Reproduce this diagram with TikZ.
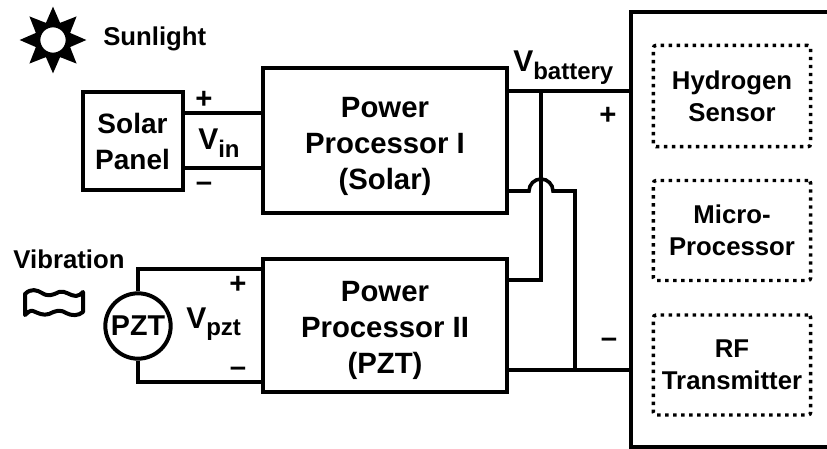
\documentclass[tikz,border=0pt]{standalone}
\usepackage{fontspec}
\setmainfont{Liberation Sans}
\usetikzlibrary{shapes.geometric}

\tikzset{
  block/.style={draw, line width=3pt, inner sep=0pt, align=center, font=\fontsize{21}{27}\selectfont\bfseries},
  proc/.style={block, minimum width=183pt, font=\fontsize{22}{27}\selectfont\bfseries},
  load/.style={draw, line width=2.6pt, dash pattern=on 2.6pt off 3.4pt, rounded corners=2pt, inner sep=0pt, align=center, minimum width=118pt, font=\fontsize{19.3}{24}\selectfont\bfseries},
  wire/.style={line width=2.7pt},
  sign/.style={inner sep=0pt, font=\fontsize{22}{22}\selectfont\bfseries},
  label/.style={inner sep=0pt, font=\fontsize{19.3}{24}\selectfont\bfseries},
  volt/.style={inner sep=0pt, anchor=base west, font=\fontsize{22.5}{24}\selectfont\bfseries}
}
\newcommand{\volts}[1]{V\raisebox{-5.5pt}{\fontsize{18}{18}\selectfont #1}}

\begin{document}
\begin{tikzpicture}[x=0.75pt,y=-0.75pt]

\useasboundingbox (0,0) rectangle (827,449);

% sources
\node[star, star points=8, star point ratio=1.8, minimum size=50pt, inner sep=0pt, fill=black] (sun) at (53,40) {};
\node[circle, draw, line width=3pt, fill=white, minimum size=22pt, inner sep=0pt] (disc) at (53,40) {};
\node[label, anchor=west] (sunlight) at (103,39) {Sunlight};
\node[block, minimum width=75pt, minimum height=74pt] (panel) at (132.5,141) {Solar\\Panel};
\node[label] (vibration) at (69,259) {Vibration};
\node[block, circle, minimum size=49pt, font=\fontsize{21.5}{24}\selectfont\bfseries] (pzt) at (138,326) {PZT};

\draw[line width=3pt, line join=round] (25,294) .. controls (31,288) and (37,290) .. (42,293)
  .. controls (48,297) and (53,295) .. (59,292) .. controls (65,290) and (70,296) .. (76,296)
  .. controls (79,296) and (81,294) .. (83,292) -- (83,312)
  .. controls (78,316) and (72,316) .. (66,313) .. controls (60,309) and (55,311) .. (49,314)
  .. controls (43,316) and (38,313) .. (33,311) .. controls (30,310) and (27,313) .. (25,315) -- cycle;

% processors
\node[proc, minimum height=108pt, text height=78pt] (solarproc) at (385,140.5) {Power\\Processor I\\(Solar)};
\node[proc, minimum height=100pt, text height=76pt] (pztproc) at (385,325.5) {Power\\Processor II\\(PZT)};

% load
\draw[line width=3pt] (827,12) -| (631,447) -- (827,447);
\node[load, minimum height=76pt] (sensor) at (732,96) {Hydrogen\\Sensor};
\node[load, minimum height=75pt] (micro) at (732,230.5) {Micro-\\Processor};
\node[load, minimum height=75pt] (rf) at (732,365) {RF\\Transmitter};

\coordinate (solarplus) at (184,113);
\coordinate (solarminus) at (184,168);
\coordinate (pztplus) at (138,269);
\coordinate (pztminus) at (138,382);
\coordinate (railplus) at (507,91);
\coordinate (railminus) at (507,370);
\coordinate (outplus) at (507,280);
\coordinate (outminus) at (507,191);
\coordinate (load) at (631,91);

\draw[wire] (solarplus) -- (solarplus -| solarproc.west);
\draw[wire] (solarminus) -- (solarminus -| solarproc.west);
\draw[wire] (pzt.north) -- (pztplus) -- (pztplus -| pztproc.west);
\draw[wire] (pzt.south) -- (pztminus) -- (pztminus -| pztproc.west);
\draw[wire] (railplus) -- (load);
\draw[wire] (railminus) -- (railminus -| load);
\draw[wire] (outplus) -- (541,280) -- (541,91);
\draw[wire] (outminus) -- (529,191) arc (180:360:12) -- (575,191) -- (575,370);

% polarity
\node[sign] (s1) at (204,100) {+};
\node[sign] (s2) at (204,187) {--};
\node[sign] (s3) at (238,285) {+};
\node[sign] (s4) at (238,372) {--};
\node[sign] (s5) at (608,116) {+};
\node[sign] (s6) at (609,343) {--};

\node[volt] (vin) at (198,150) {\volts{in}};
\node[volt] (vpzt) at (186,328) {\volts{pzt}};
\node[volt] (vbattery) at (513,72) {\volts{battery}};

\end{tikzpicture}
\end{document}
